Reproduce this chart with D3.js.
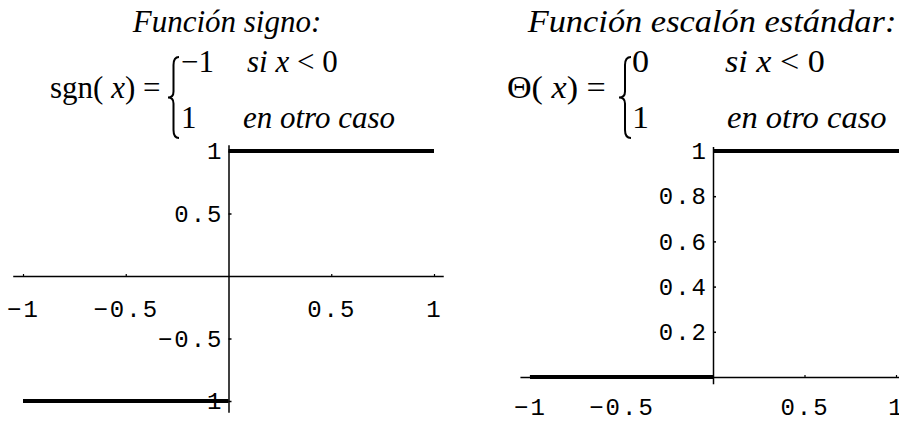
<!DOCTYPE html>
<html>
<head>
<meta charset="utf-8">
<script src="https://cdn.jsdelivr.net/npm/d3@7"></script>
<style>
  body { margin: 0; background: #fff; }
  svg { display: block; }
  .tick text { font-family: "Liberation Mono", monospace; font-size: 24px; letter-spacing: 2px; fill: #000; }
  .serif { font-family: "Liberation Serif", "Times New Roman", serif; fill: #000; }
</style>
</head>
<body>
<svg id="chart" width="899" height="421"></svg>
<script>
// sign function: two horizontal pieces
const sgnX = [[-1, 0], [0, 1]];
const sgnY = [[-1, -1], [1, 1]];
// heaviside step function
const stepX = [[-1, 0], [0, 1.02]];
const stepY = [[0, 0], [1, 1]];

const sgnXTicks = [-1, -0.5, 0.5, 1];
const sgnYTicks = [-1, -0.5, 0.5, 1];
const stepXTicks = [-1, -0.5, 0.5, 1];
const stepYTicks = [0.2, 0.4, 0.6, 0.8, 1];

const svg = d3.select("#chart");
const fmt = d3.format("~g");

function drawPlot(xs, ys, xDom, yDom, xTicks, yTicks, lx, ly, xPad) {
    const xAx = xs.copy().domain(xDom).range(xDom.map(xs));
    const yAx = ys.copy().domain(yDom).range(yDom.map(ys));

    svg.append("g")
        .attr("transform", `translate(0,${ys(0)})`)
        .call(d3.axisBottom(xAx).tickValues(xTicks).tickSize(-2).tickSizeOuter(0).tickPadding(xPad).tickFormat(fmt))
        .call(g => g.select(".domain").attr("stroke-width", 1.5))
        .call(g => g.selectAll(".tick line").attr("stroke-width", 1.2));

    svg.append("g")
        .attr("transform", `translate(${xs(0)},0)`)
        .call(d3.axisLeft(yAx).tickValues(yTicks).tickSize(-3).tickSizeOuter(0).tickPadding(5).tickFormat(fmt))
        .call(g => g.select(".domain").attr("stroke-width", 1.5))
        .call(g => g.selectAll(".tick line").attr("stroke-width", 1.5));

    const line = d3.line().x(d => xs(d[0])).y(d => ys(d[1]));
    lx.forEach((seg, i) => {
        svg.append("path")
            .datum(seg.map((v, j) => [v, ly[i][j]]))
            .attr("fill", "none")
            .attr("stroke", "#000")
            .attr("stroke-width", 3.8)
            .attr("d", line);
    });
}

// left: sgn
const xL = d3.scaleLinear().domain([-1, 1]).range([23, 434]);
const yL = d3.scaleLinear().domain([-1, 1]).range([401, 151]);
drawPlot(xL, yL, [-1.05, 1.045], [1.05, -1.09], sgnXTicks, sgnYTicks, sgnX, sgnY, 24);

// right: step
const xR = d3.scaleLinear().domain([-1, 1]).range([530, 896]);
const yR = d3.scaleLinear().domain([0, 1]).range([377, 151]);
drawPlot(xR, yR, [-1.055, 1.1], [1.02, -0.03], stepXTicks, stepYTicks, stepX, stepY, 21);

// titles and formulas
function brace(x, top, bottom, w) {
    const mid = (top + bottom) / 2;
    const h = w / 2;
    const p = d3.path();
    p.moveTo(x + w, top);
    p.quadraticCurveTo(x + h, top, x + h, top + 8);
    p.lineTo(x + h, mid - 6);
    p.quadraticCurveTo(x + h, mid, x, mid);
    p.quadraticCurveTo(x + h, mid, x + h, mid + 6);
    p.lineTo(x + h, bottom - 8);
    p.quadraticCurveTo(x + h, bottom, x + w, bottom);
    svg.append("path").attr("d", p.toString())
        .attr("fill", "none").attr("stroke", "#000").attr("stroke-width", 2);
}

function text(x, y, parts, anchor, sx) {
    const t = svg.append("text").attr("class", "serif")
        .attr("transform", `translate(${x},${y}) scale(${sx || 1},1)`)
        .attr("font-size", 31).attr("text-anchor", anchor || "start");
    parts.forEach(p => {
        t.append("tspan").attr("font-style", p[1] ? "italic" : "normal").text(p[0]);
    });
    return t;
}

text(227, 32, [["Función signo:", true]], "middle");
text(712, 32, [["Función escalón estándar:", true]], "middle", 1.11);

text(50, 98, [["sgn( ", false], ["x", true], [") =", false]]);
brace(168, 57, 138, 11);
text(181, 72, [["\u22121", false]]);
text(247, 72, [["si x", true], [" < 0", false]]);
text(181, 128, [["1", false]]);
text(243, 128, [["en otro caso", true]]);

text(507, 98, [["\u0398( ", false], ["x", true], [") =", false]], "start", 1.1);
brace(619, 57, 138, 12);
text(632, 72, [["0", false]], "start", 1.1);
text(725, 72, [["si x", true], [" < 0", false]], "start", 1.1);
text(632, 128, [["1", false]], "start", 1.1);
text(727, 128, [["en otro caso", true]], "start", 1.05);
</script>
</body>
</html>
